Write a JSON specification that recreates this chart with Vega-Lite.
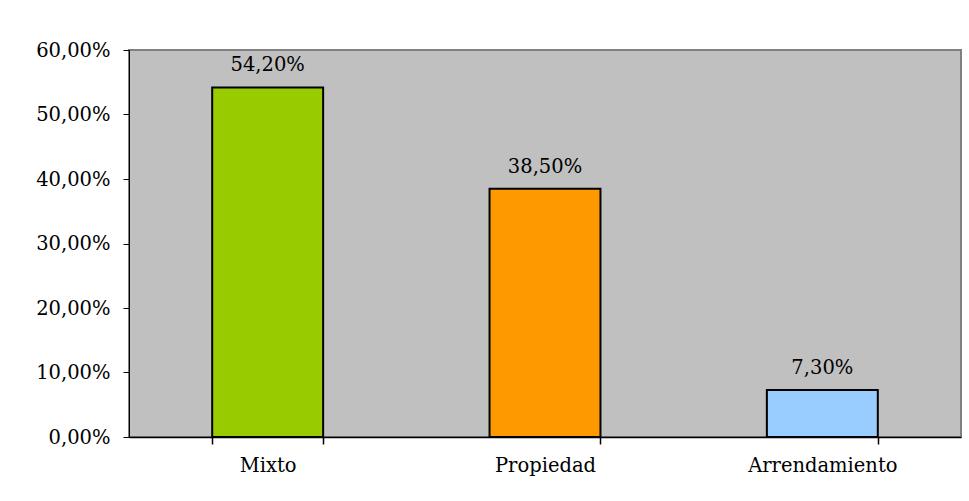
{
  "$schema": "https://vega.github.io/schema/vega-lite/v6.json",
  "width": 832,
  "height": 387,
  "autosize": {"type": "none"},
  "padding": {"left": 129, "top": 50, "right": 8, "bottom": 64},
  "background": "white",
  "config": {
    "view": {"fill": "#C0C0C0", "stroke": "#808080", "strokeWidth": 2},
    "font": "DejaVu Serif"
  },
  "data": {
    "values": [
      {"tipo": "Mixto", "valor": 0.542, "color": "#99CC00"},
      {"tipo": "Propiedad", "valor": 0.385, "color": "#FF9900"},
      {"tipo": "Arrendamiento", "valor": 0.073, "color": "#99CCFF"}
    ]
  },
  "encoding": {
    "x": {
      "field": "tipo",
      "type": "nominal",
      "sort": null,
      "scale": {"paddingInner": 0.6, "paddingOuter": 0.3},
      "axis": {
        "title": null,
        "labelAngle": 0,
        "labelFont": "DejaVu Serif",
        "labelFontSize": 19.5,
        "labelColor": "black",
        "tickBand": "extent",
        "tickSize": 7,
        "tickColor": "black",
        "tickWidth": 1.5,
        "domainColor": "black",
        "domainWidth": 1.5,
        "labelPadding": 12
      }
    },
    "y": {
      "field": "valor",
      "type": "quantitative",
      "scale": {"domain": [0, 0.6]},
      "axis": {
        "title": null,
        "values": [0, 0.1, 0.2, 0.3, 0.4, 0.5, 0.6],
        "labelExpr": "replace(format(datum.value, '.2%'), '.', ',')",
        "labelFont": "DejaVu Serif",
        "labelFontSize": 19.5,
        "labelColor": "black",
        "tickSize": 6,
        "tickColor": "black",
        "domainColor": "black",
        "labelPadding": 13,
        "grid": false
      }
    }
  },
  "layer": [
    {
      "mark": {"type": "bar", "stroke": "black", "strokeWidth": 2},
      "encoding": {
        "color": {"field": "color", "type": "nominal", "scale": null, "legend": null}
      }
    },
    {
      "transform": [
        {"calculate": "replace(format(datum.valor, '.2%'), '.', ',')", "as": "etiqueta"}
      ],
      "mark": {"type": "text", "baseline": "alphabetic", "dy": -16, "fontSize": 19.5, "font": "DejaVu Serif", "color": "black"},
      "encoding": {"text": {"field": "etiqueta"}}
    }
  ]
}
